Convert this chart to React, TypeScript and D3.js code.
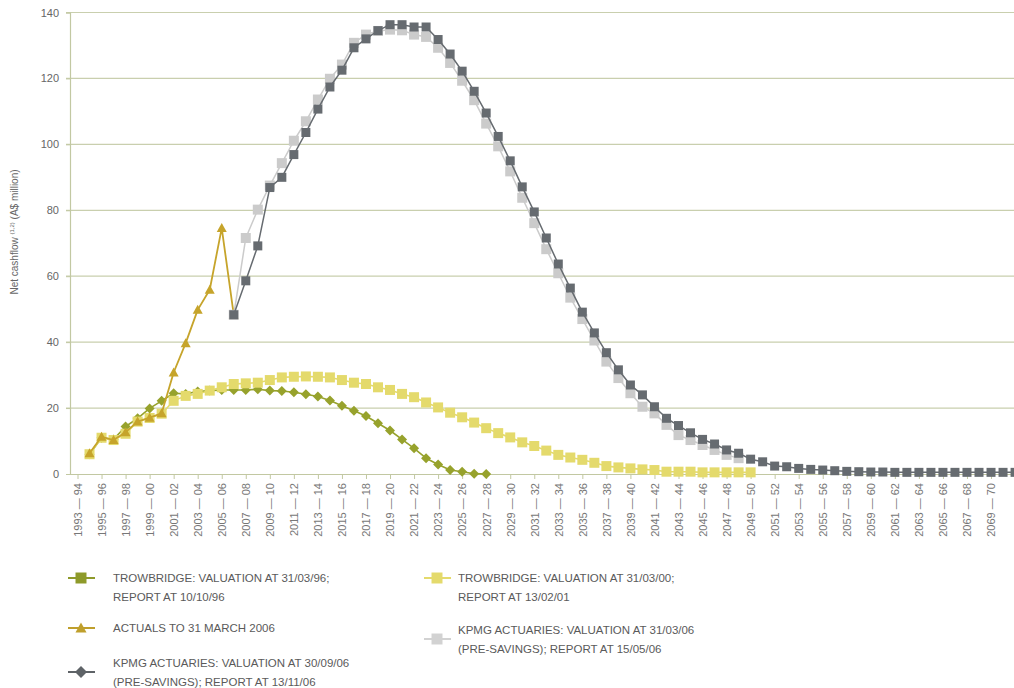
// @ts-nocheck
import { useEffect, useRef } from 'react';
import * as d3 from 'd3';

// category axis: financial years 1993-94 onwards
const startYear = 1993;
const nCats = 81;
const categories = d3.range(nCats).map(i => {
  const y = startYear + i;
  return `${y} — ${String((y + 1) % 100).padStart(2, '0')}`;
});
const lastLabelled = 76; // 2069-70, the chart is cut at the right edge

// each series starts at a category index
const trowbridge96Start = 1;
const trowbridge96 = [6.0, 11.0, 10.5, 14.4, 16.9, 19.9, 22.2, 24.5, 24.3, 25.0, 25.3, 25.5, 25.5, 25.5, 25.7, 25.3, 25.2, 24.8, 24.2, 23.5, 22.3, 20.7, 19.2, 17.6, 15.4, 13.2, 10.5, 7.8, 4.8, 2.9, 1.2, 0.7, 0.1, 0.0];

const trowbridge00Start = 1;
const trowbridge00 = [6.0, 11.0, 10.3, 12.2, 15.9, 17.0, 18.3, 22.2, 23.7, 24.3, 25.3, 26.3, 27.3, 27.5, 27.7, 28.5, 29.3, 29.5, 29.6, 29.5, 29.3, 28.5, 27.7, 27.3, 26.3, 25.5, 24.3, 23.3, 21.7, 20.2, 18.6, 17.2, 15.6, 13.9, 12.4, 11.1, 9.6, 8.5, 7.1, 5.8, 5.0, 4.3, 3.4, 2.4, 2.0, 1.7, 1.4, 1.2, 0.7, 0.7, 0.7, 0.5, 0.5, 0.5, 0.5, 0.5];

const actualsStart = 1;
const actuals = [6.3, 11.3, 10.3, 12.7, 15.9, 17.1, 18.4, 30.8, 39.7, 49.8, 55.9, 74.6, 48.3];

const kpmgMayStart = 13;
const kpmgMay = [48.3, 71.6, 80.2, 87.5, 94.3, 101.1, 107.0, 113.6, 119.9, 124.2, 130.8, 133.3, 134.4, 134.8, 134.6, 133.3, 132.6, 129.3, 124.7, 119.3, 113.4, 106.3, 99.4, 91.8, 83.8, 76.1, 68.2, 60.9, 53.5, 47.0, 40.5, 34.1, 29.1, 24.5, 20.4, 18.4, 14.9, 11.8, 10.3, 8.8, 7.3, 5.8, 4.8];

const kpmgNovStart = 13;
const kpmgNov = [48.3, 58.6, 69.2, 86.9, 90.0, 96.9, 103.6, 110.7, 117.4, 122.5, 129.3, 132.0, 134.5, 136.3, 136.3, 135.6, 135.6, 131.8, 127.4, 122.2, 116.1, 109.5, 102.4, 95.0, 87.1, 79.5, 71.6, 63.7, 56.4, 49.1, 42.8, 36.8, 31.6, 27.0, 24.0, 20.4, 16.9, 14.7, 12.5, 10.5, 9.1, 7.3, 6.3, 4.5, 3.7, 2.4, 2.2, 1.7, 1.4, 1.2, 1.0, 0.8, 0.7, 0.6, 0.6, 0.5, 0.5, 0.5, 0.5, 0.5, 0.5, 0.5, 0.5, 0.5, 0.5, 0.5];

const yTicks = [0, 20, 40, 60, 80, 100, 120, 140];

const series = [
  { name: 'trowbridge96', start: trowbridge96Start, values: trowbridge96, color: '#97a22c', marker: 'diamond', size: 9, width: 1.6 },
  { name: 'trowbridge00', start: trowbridge00Start, values: trowbridge00, color: '#e4da6c', marker: 'square', size: 10, width: 1.6 },
  { name: 'actuals', start: actualsStart, values: actuals, color: '#c6a42b', marker: 'triangle', size: 10, width: 1.8 },
  { name: 'kpmgMay', start: kpmgMayStart, values: kpmgMay, color: '#cbcbcb', marker: 'square', size: 10, width: 1.5 },
  { name: 'kpmgNov', start: kpmgNovStart, values: kpmgNov, color: '#666b70', marker: 'square', size: 9, width: 1.5 }
];

// textY = centre of first text line, markerY = centre of the symbol
const legendItems = [
  { lines: ['TROWBRIDGE: VALUATION AT 31/03/96;', 'REPORT AT 10/10/96'], color: '#8e9a2a', marker: 'square', col: 0, markerY: 578, textY: 578 },
  { lines: ['ACTUALS TO 31 MARCH 2006'], color: '#bf9f2c', marker: 'triangle', col: 0, markerY: 628, textY: 628 },
  { lines: ['KPMG ACTUARIES: VALUATION AT 30/09/06', '(PRE-SAVINGS); REPORT AT 13/11/06'], color: '#5e6367', marker: 'diamond', col: 0, markerY: 672, textY: 663 },
  { lines: ['TROWBRIDGE: VALUATION AT 31/03/00;', 'REPORT AT 13/02/01'], color: '#e4da6c', marker: 'square', col: 1, markerY: 578, textY: 578 },
  { lines: ['KPMG ACTUARIES: VALUATION AT 31/03/06', '(PRE-SAVINGS); REPORT AT 15/05/06'], color: '#d2d2d2', marker: 'square', col: 1, markerY: 639, textY: 630 }
];

const markerPath = (type, s) => {
  const h = s / 2;
  if (type === 'square') return `M${-h},${-h}h${s}v${s}h${-s}Z`;
  if (type === 'diamond') return `M0,${-h - 0.5}L${h + 0.5},0L0,${h + 0.5}L${-h - 0.5},0Z`;
  return `M0,${-h}L${h},${h * 0.8}L${-h},${h * 0.8}Z`;
};

const App = () => {
  const svgRef = useRef();

  useEffect(() => {
    const svg = d3.select(svgRef.current);
    svg.selectAll('*').remove();

    const W = 1014;
    const font = '"Liberation Sans", Arial, sans-serif';
    const plotLeft = 70;
    const plotRight = W;

    const x = d3.scalePoint()
      .domain(categories)
      .range([77.5, 77.5 + (nCats - 1) * 12.02]);

    const y = d3.scaleLinear().domain([0, 140]).range([474, 12.5]);

    // gridlines
    svg.append('g')
      .selectAll('line')
      .data(yTicks.filter(t => t > 0))
      .enter()
      .append('line')
      .attr('x1', plotLeft - 4)
      .attr('x2', plotRight)
      .attr('y1', d => y(d))
      .attr('y2', d => y(d))
      .attr('stroke', '#c9cfae')
      .attr('stroke-width', 1.2);

    // y axis
    const yAxis = svg.append('g')
      .attr('transform', `translate(${plotLeft},0)`)
      .call(d3.axisLeft(y).tickValues(yTicks).tickSize(4).tickPadding(7));
    yAxis.select('.domain').attr('stroke', '#c2c8a2').attr('stroke-width', 1.2);
    yAxis.selectAll('.tick line').attr('stroke', '#c2c8a2');
    yAxis.selectAll('text')
      .style('font-family', font)
      .style('font-size', '11px')
      .attr('fill', '#666');

    // x axis
    const xAxis = svg.append('g')
      .attr('transform', `translate(0,${y(0)})`)
      .call(
        d3.axisBottom(x)
          .tickValues(categories.filter((c, i) => i % 2 === 0 && i <= lastLabelled + 2))
          .tickSize(5)
          .tickSizeOuter(0)
      );
    xAxis.select('.domain')
      .attr('d', `M${plotLeft},0.5H${plotRight}`)
      .attr('stroke', '#c2c8a2')
      .attr('stroke-width', 1.2);
    xAxis.selectAll('.tick line').attr('stroke', '#c2c8a2');
    xAxis.selectAll('text')
      .attr('transform', 'rotate(-90)')
      .attr('x', -9)
      .attr('y', 0)
      .attr('dy', '0.35em')
      .style('text-anchor', 'end')
      .style('font-family', font)
      .style('font-size', '11px')
      .attr('fill', '#777')
      .style('display', (d) => (categories.indexOf(d) <= lastLabelled ? null : 'none'));

    // y label
    const yl = svg.append('text')
      .attr('transform', 'translate(18,232) rotate(-90)')
      .attr('text-anchor', 'middle')
      .style('font-family', font)
      .style('font-size', '10px')
      .attr('fill', '#666');
    yl.append('tspan').text('Net cashflow ');
    yl.append('tspan').attr('font-size', '6px').attr('dy', -4).text('(1,2)');
    yl.append('tspan').attr('dy', 4).text(' (A$ million)');

    // series
    series.forEach(s => {
      const pts = s.values.map((v, k) => ({ c: categories[s.start + k], v }));
      const line = d3.line().x(d => x(d.c)).y(d => y(d.v));
      const g = svg.append('g');
      g.append('path')
        .datum(pts)
        .attr('d', line)
        .attr('fill', 'none')
        .attr('stroke', s.color)
        .attr('stroke-width', s.width)
        .attr('stroke-linejoin', 'round');
      g.selectAll('path.m')
        .data(pts)
        .enter()
        .append('path')
        .attr('class', 'm')
        .attr('d', markerPath(s.marker, s.size))
        .attr('transform', d => `translate(${x(d.c)},${y(d.v)})`)
        .attr('fill', s.color);
    });

    // legend
    const colX = [81, 437];
    const textX = [113, 458];
    legendItems.forEach(item => {
      const cx = colX[item.col];
      const cy = item.markerY;
      const g = svg.append('g');
      g.append('line')
        .attr('x1', cx - 13).attr('x2', cx + 14)
        .attr('y1', cy).attr('y2', cy)
        .attr('stroke', item.color)
        .attr('stroke-width', 2);
      g.append('path')
        .attr('d', markerPath(item.marker, 11))
        .attr('transform', `translate(${cx},${cy})`)
        .attr('fill', item.color);
      const t = g.append('text')
        .attr('y', item.textY + 4)
        .style('font-family', font)
        .style('font-size', '11.5px')
        .attr('fill', '#5a5a5a');
      item.lines.forEach((l, k) => {
        t.append('tspan').attr('x', textX[item.col]).attr('dy', k === 0 ? 0 : 19).text(l);
      });
    });
  }, []);

  return (
    <svg
      ref={svgRef}
      width={1014}
      height={688}
      style={{ position: 'absolute', left: 0, top: 0, background: '#fff' }}
    ></svg>
  );
};

export default App;
